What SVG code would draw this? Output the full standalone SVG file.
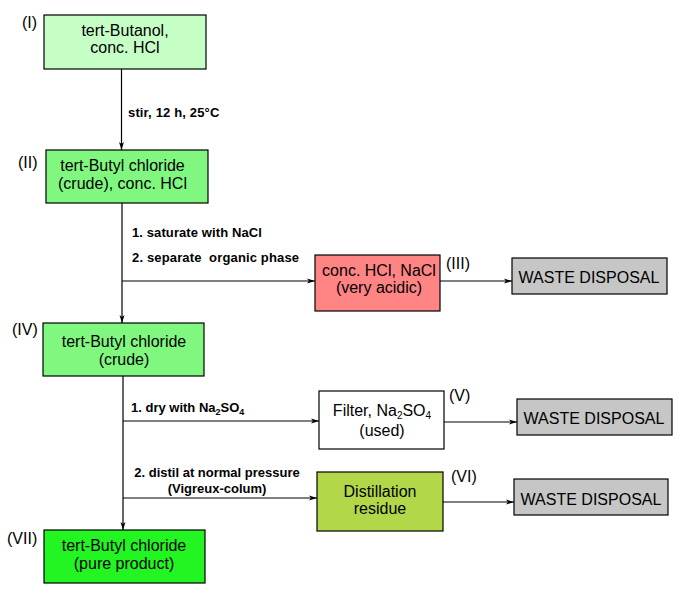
<svg xmlns="http://www.w3.org/2000/svg" width="680" height="600" viewBox="0 0 680 600">
<defs>
<marker id="arr" markerWidth="8" markerHeight="6" refX="8" refY="3" orient="auto" markerUnits="userSpaceOnUse">
<path d="M0,0.5 L8,3 L0,5.5 L2,3 z" fill="#000"/>
</marker>
</defs>
<style>
.box{stroke:#000;stroke-width:1.2}
.t{font-family:"Liberation Sans",Arial,sans-serif;font-size:16px;fill:#000;text-anchor:middle}
.n{font-family:"Liberation Sans",Arial,sans-serif;font-size:16px;fill:#000}
.l{font-family:"Liberation Sans",Arial,sans-serif;font-size:13px;font-weight:bold;fill:#000;white-space:pre}
.c{stroke:#000;stroke-width:1.2;fill:none;marker-end:url(#arr)}
</style>
<rect width="680" height="600" fill="#fff"/>
<g id="connectors">
<line class="c" x1="121.5" y1="69" x2="121.5" y2="150"/>
<line class="c" x1="122" y1="203" x2="122" y2="323"/>
<line class="c" x1="122" y1="281" x2="315" y2="281"/>
<line class="c" x1="440" y1="281" x2="512" y2="281"/>
<line class="c" x1="123" y1="376" x2="123" y2="530"/>
<line class="c" x1="123" y1="421" x2="319" y2="421"/>
<line class="c" x1="444" y1="422" x2="517" y2="422"/>
<line class="c" x1="123" y1="498" x2="317" y2="498"/>
<line class="c" x1="443" y1="502" x2="514" y2="502"/>
<text class="l" x="128" y="117" letter-spacing="0.15">stir, 12 h, 25°C</text>
<text class="l" x="132" y="237" letter-spacing="0.1">1. saturate with NaCl</text>
<text class="l" x="132" y="262" letter-spacing="0.15">2. separate  organic phase</text>
<text class="l" x="131" y="412">1. dry with Na<tspan font-size="9" dy="3">2</tspan><tspan dy="-3">SO</tspan><tspan font-size="9" dy="3">4</tspan></text>
<text class="l" x="217" y="477" text-anchor="middle">2. distil at normal pressure</text>
<text class="l" x="217" y="493" text-anchor="middle">(Vigreux-colum)</text>
</g>
<g id="n1">
<rect class="box" x="44" y="15" width="162" height="54" fill="#c6ffc6"/>
<text class="t" x="125" y="36">tert-Butanol,</text>
<text class="t" x="125" y="53">conc. HCl</text>
<text class="n" x="22" y="28">(I)</text>
</g>
<g id="n2">
<rect class="box" x="46" y="150" width="162" height="53" fill="#80f880"/>
<text class="t" x="122.5" y="171">tert-Butyl chloride</text>
<text class="t" x="122.5" y="189">(crude), conc. HCl</text>
<text class="n" x="18" y="168">(II)</text>
</g>
<g id="n3">
<rect class="box" x="315" y="255" width="125" height="56" fill="#ff8484"/>
<text class="t" x="379" y="276">conc. HCl, NaCl</text>
<text class="t" x="379" y="293">(very acidic)</text>
<text class="n" x="446" y="269">(III)</text>
</g>
<g id="w1">
<rect class="box" x="512" y="258" width="155" height="36" fill="#c6c6c6"/>
<text class="t" x="589" y="283">WASTE DISPOSAL</text>
</g>
<g id="n4">
<rect class="box" x="43" y="323" width="161" height="53" fill="#80f880"/>
<text class="t" x="124" y="347">tert-Butyl chloride</text>
<text class="t" x="124" y="365">(crude)</text>
<text class="n" x="12" y="335">(IV)</text>
</g>
<g id="n5">
<rect class="box" x="319" y="391" width="125" height="58" fill="#fff"/>
<text class="t" x="382" y="416">Filter, Na<tspan font-size="10" dy="3">2</tspan><tspan dy="-3">SO</tspan><tspan font-size="10" dy="3">4</tspan></text>
<text class="t" x="382" y="436">(used)</text>
<text class="n" x="449" y="401">(V)</text>
</g>
<g id="w2">
<rect class="box" x="517" y="399" width="155" height="36" fill="#c6c6c6"/>
<text class="t" x="594" y="424">WASTE DISPOSAL</text>
</g>
<g id="n6">
<rect class="box" x="317" y="472" width="126" height="59" fill="#b2d84a"/>
<text class="t" x="380" y="497">Distillation</text>
<text class="t" x="380" y="514">residue</text>
<text class="n" x="451" y="482">(VI)</text>
</g>
<g id="w3">
<rect class="box" x="514" y="479" width="154" height="36" fill="#c6c6c6"/>
<text class="t" x="591" y="505">WASTE DISPOSAL</text>
</g>
<g id="n7">
<rect class="box" x="44" y="530" width="161" height="53" fill="#22f522"/>
<text class="t" x="124" y="551">tert-Butyl chloride</text>
<text class="t" x="124" y="569">(pure product)</text>
<text class="n" x="7" y="544">(VII)</text>
</g>
</svg>
